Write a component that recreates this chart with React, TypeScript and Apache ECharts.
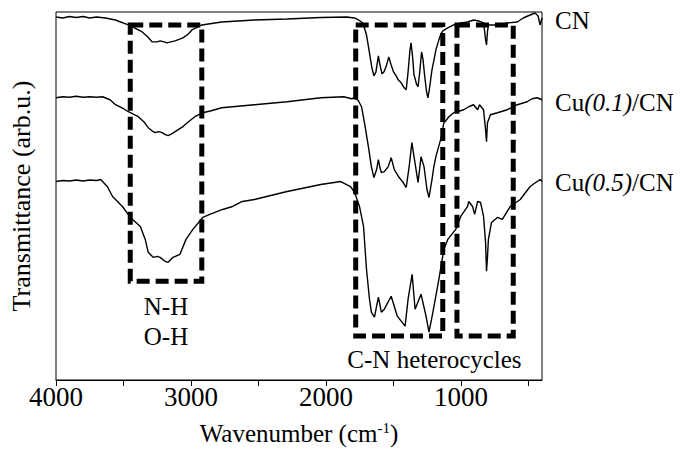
import React, { useEffect, useRef } from "react";
import * as echarts from "echarts";

const FONT = "'Times New Roman', 'Liberation Serif', serif";

// Wavenumber (cm-1) / transmittance (arb. units, offset per curve)
const cnSpectrum: [number, number][] = [
  [4000, 364], [3950, 363], [3900, 364.5], [3850, 363.5], [3800, 364.5], [3750, 363], [3700, 364], [3633, 363],
  [3560, 361], [3464, 356], [3420, 353], [3361, 349], [3320, 344], [3287, 339], [3250, 339], [3229, 340],
  [3200, 339], [3177, 338], [3150, 339], [3118, 340], [3060, 343], [3020, 347], [2993, 351], [2950, 354],
  [2920, 356], [2773, 359], [2530, 361], [2288, 362], [2038, 363.5], [1847, 364], [1790, 363], [1759, 361],
  [1737, 359], [1722, 356], [1700, 346], [1678, 328], [1660, 313], [1645, 305], [1630, 309], [1612, 325],
  [1600, 316], [1585, 307], [1570, 309], [1553, 315], [1535, 324], [1520, 317], [1500, 309], [1480, 305],
  [1465, 301], [1443, 298], [1421, 293], [1406, 291], [1392, 309], [1378, 331], [1370, 338], [1360, 326],
  [1348, 306], [1330, 297], [1318, 294], [1304, 311], [1292, 329], [1281, 321], [1270, 306], [1255, 289],
  [1245, 283], [1235, 291], [1215, 311], [1200, 321], [1186, 331], [1164, 341], [1149, 347], [1134, 350],
  [1098, 353], [1054, 356], [1002, 358], [951, 359], [907, 361], [870, 360], [833, 358], [826, 351],
  [818, 341], [811, 336], [804, 349], [797, 356], [730, 356], [657, 358], [583, 359], [539, 363],
  [488, 366], [451, 368], [429, 365], [414, 356], [400, 363],
];

const cu01Spectrum: [number, number][] = [
  [4000, 283], [3950, 284], [3900, 283.5], [3850, 284.5], [3800, 283.5], [3750, 284], [3700, 283.5], [3655, 284],
  [3600, 281], [3559, 276], [3500, 272], [3464, 269], [3420, 266], [3390, 264], [3350, 259], [3317, 253],
  [3280, 249], [3265, 248], [3240, 249], [3214, 248], [3190, 246], [3170, 245], [3140, 247], [3118, 249],
  [3060, 254], [3045, 256], [3000, 261], [2971, 264], [2913, 268], [2850, 270], [2773, 273], [2530, 276],
  [2288, 279], [2038, 283], [1869, 284], [1810, 282], [1788, 283], [1760, 280], [1737, 274], [1715, 258],
  [1686, 234], [1664, 214], [1645, 203], [1625, 211], [1612, 221], [1600, 213], [1590, 208], [1568, 209],
  [1539, 214], [1517, 223], [1494, 211], [1458, 203], [1428, 198], [1406, 193], [1384, 214], [1364, 238],
  [1348, 224], [1318, 198], [1296, 224], [1274, 214], [1252, 191], [1237, 183], [1215, 201], [1201, 214],
  [1186, 224], [1149, 242], [1127, 258], [1112, 260], [1090, 264], [1054, 268], [980, 271], [943, 274],
  [907, 276], [877, 271], [863, 276], [833, 271], [818, 251], [811, 239], [804, 258], [782, 266],
  [730, 268], [657, 271], [583, 276], [510, 279], [473, 282], [436, 283], [400, 281],
];

const cu05Spectrum: [number, number][] = [
  [4000, 199], [3950, 200], [3900, 199.5], [3850, 200.5], [3800, 199.5], [3750, 200.5], [3700, 200], [3669, 201],
  [3620, 194], [3581, 184], [3508, 174], [3449, 163], [3375, 154], [3339, 141], [3317, 128], [3280, 123],
  [3250, 124], [3229, 123], [3192, 119], [3170, 118], [3133, 123], [3082, 126], [3037, 141], [2986, 151],
  [2913, 163], [2861, 166], [2766, 171], [2692, 174], [2619, 179], [2530, 181], [2288, 189], [2038, 196],
  [1891, 199], [1818, 194], [1788, 188], [1752, 174], [1722, 154], [1700, 111], [1678, 81], [1664, 68],
  [1641, 63], [1612, 83], [1590, 68], [1568, 71], [1517, 84], [1472, 64], [1414, 54], [1392, 81],
  [1362, 106], [1340, 71], [1296, 86], [1259, 64], [1237, 48], [1208, 68], [1164, 101], [1127, 131],
  [1098, 141], [1039, 151], [1002, 164], [951, 174], [943, 179], [914, 174], [899, 166], [877, 179],
  [855, 178], [833, 164], [818, 138], [811, 109], [804, 123], [797, 141], [774, 158], [730, 163],
  [694, 161], [635, 174], [561, 181], [488, 194], [436, 199], [414, 201], [400, 199],
];

const seriesNames = ["CN", "Cu(0.1)/CN", "Cu(0.5)/CN"];
const seriesLabels = ["{n|CN}", "{n|Cu}{i|(0.1)}{n|/CN}", "{n|Cu}{i|(0.5)}{n|/CN}"];
const xTicks = [4000, 3500, 3000, 2500, 2000, 1500, 1000, 500];
const xTickLabels = [4000, 3000, 2000, 1000];

// Highlighted regions: [wavenumber from, value top, wavenumber to, value bottom]
const boxNH: [number, number, number, number] = [3450, 356, 2920, 99];
const boxCN: [number, number, number, number] = [1780, 356, 1135, 44];
const boxTri: [number, number, number, number] = [1030, 356, 613, 44];
const boxCNLabel: [number, number, number, number] = [1780, 356, 613, 44];

const richText = {
  n: { fontFamily: FONT, fontSize: 25, color: "#000" },
  i: { fontFamily: FONT, fontSize: 25, color: "#000", fontStyle: "italic" as const },
};

export default function App() {
  const ref = useRef<HTMLDivElement>(null);
  useEffect(() => {
    if (!ref.current) return;
    const chart = echarts.init(ref.current, undefined, { renderer: "svg" });
    const dashStyle = {
      color: "transparent",
      borderColor: "#000",
      borderWidth: 5,
      borderType: [13, 6],
    };
    const area = (b: [number, number, number, number], text: string, style: any) => [
      {
        coord: [b[0], b[1]],
        itemStyle: style,
        label: {
          show: text !== "",
          position: "bottom",
          distance: 8,
          formatter: text,
          fontFamily: FONT,
          fontSize: 25,
          lineHeight: 30,
          color: "#000",
        },
      },
      { coord: [b[2], b[3]] },
    ];
    const data = [cnSpectrum, cu01Spectrum, cu05Spectrum];
    const labelY = [23, 105, 185];
    chart.setOption({
      animation: false,
      backgroundColor: "#fff",
      grid: {
        left: 52,
        right: 141,
        top: 12,
        bottom: 70,
        show: true,
        borderColor: "#000",
        borderWidth: 1,
        backgroundColor: "transparent",
      },
      graphic: seriesLabels.map((t, k) => ({
        type: "text",
        left: 555,
        top: labelY[k] - 15,
        silent: true,
        style: { text: t, rich: richText, fill: "#000" },
      })),
      xAxis: {
        type: "value",
        inverse: true,
        min: 400,
        max: 4000,
        name: "Wavenumber (cm{sup|-1})",
        nameLocation: "middle",
        nameGap: 40,
        nameTextStyle: {
          fontFamily: FONT,
          fontSize: 25,
          color: "#000",
          rich: {
            sup: { fontFamily: FONT, fontSize: 15, color: "#000", padding: [0, 0, 12, 0] },
          },
        },
        axisLine: { show: true, lineStyle: { color: "#000", width: 1 } },
        axisTick: { show: true, inside: false, length: 6, customValues: xTicks, lineStyle: { color: "#000" } },
        axisLabel: {
          customValues: xTickLabels,
          formatter: (v: number) => String(v),
          fontFamily: FONT,
          fontSize: 27,
          color: "#000",
          margin: 3,
        },
        splitLine: { show: false },
      },
      yAxis: {
        type: "value",
        min: 0,
        max: 369,
        name: "Transmittance (arb.u.)",
        nameLocation: "middle",
        nameGap: 22,
        nameTextStyle: { fontFamily: FONT, fontSize: 26, color: "#000" },
        axisLine: { show: false },
        axisTick: { show: false },
        axisLabel: { show: false },
        splitLine: { show: false },
      },
      series: data.map((d, k) => ({
        name: seriesNames[k],
        type: "line",
        data: d,
        showSymbol: false,
        symbol: "none",
        silent: true,
        lineStyle: { color: "#000", width: 1.4 },
        markArea:
          k === 0
            ? {
                silent: true,
                data: [
                  area(boxNH, "N-H\nO-H", dashStyle),
                  area(boxCN, "", dashStyle),
                  area(boxTri, "", dashStyle),
                  area(boxCNLabel, "C-N heterocycles", { color: "transparent", borderWidth: 0 }),
                ],
              }
            : undefined,
      })),
    });
    return () => chart.dispose();
  }, []);
  return (
    <div
      ref={ref}
      style={{ position: "absolute", left: 0, top: 0, width: 683, height: 451 }}
    />
  );
}
